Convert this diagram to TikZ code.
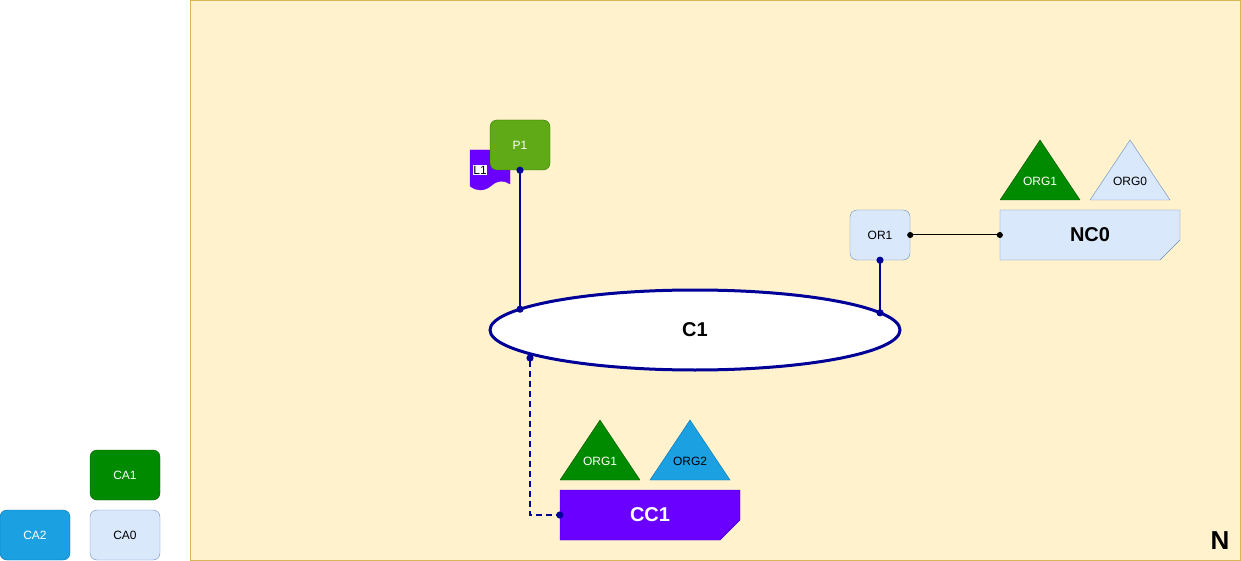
\documentclass[tikz,border=0pt]{standalone}
\usepackage{fontspec}
\setmainfont{Liberation Sans}
\usetikzlibrary{positioning, shapes, arrows.meta}

\definecolor{bgyellow}{HTML}{FFF2CC}
\definecolor{bgedge}{HTML}{D6B656}
\definecolor{bluefill}{HTML}{DAE8FC}
\definecolor{blueedge}{HTML}{6C8EBF}
\definecolor{greenfill}{HTML}{008A00}
\definecolor{greenedge}{HTML}{005700}
\definecolor{limefill}{HTML}{60A917}
\definecolor{limeedge}{HTML}{2D7600}
\definecolor{skyfill}{HTML}{1BA1E2}
\definecolor{skyedge}{HTML}{006EAF}
\definecolor{violetfill}{HTML}{6A00FF}
\definecolor{violetedge}{HTML}{3700CC}
\definecolor{navy}{HTML}{000099}

\tikzset{
    box/.style={rectangle, rounded corners=7pt, draw, minimum width=60pt, minimum height=50pt, inner sep=0pt, font=\fontsize{12}{14}\selectfont},
    cardtext/.style={minimum width=180pt, minimum height=50pt, inner sep=0pt, font=\bfseries\fontsize{20}{24}\selectfont},
    orgtext/.style={inner sep=0pt, font=\fontsize{12}{14}\selectfont},
    wire/.style={draw=navy, line width=2pt, {Circle[length=7pt]}-{Circle[length=7pt]}, shorten <=-3.5pt, shorten >=-3.5pt},
}

\begin{document}
\begin{tikzpicture}[x=1pt, y=-1pt]
    \useasboundingbox (0,0) rectangle (1241,561);

    % network area
    \filldraw[fill=bgyellow, draw=bgedge] (190.5,0.5) rectangle (1240.5,560.5);
    \node[font=\bfseries\fontsize{26}{30}\selectfont, inner sep=0pt] (nlabel) at (1220,541) {N};

    % ledger behind peer
    \filldraw[fill=violetfill, draw=violetfill] (470,150) -- (510,150) -- (510,184)
        .. controls (504,180) and (498,180) .. (492,185)
        .. controls (484,192) and (476,191) .. (470,186) -- cycle;
    \node[fill=white, text=black, inner xsep=0.5pt, inner ysep=1pt, font=\fontsize{12}{14}\selectfont] (l1) at (480,170) {L1};

    % peer and orderer
    \node[box, fill=limefill, draw=limeedge, text=white] (p1) at (520,145) {P1};
    \node[box, fill=bluefill, draw=blueedge] (or1) at (880,235) {OR1};

    % channel
    \node[ellipse, draw=navy, line width=3pt, fill=white, minimum width=410pt, minimum height=80pt, inner sep=0pt,
          font=\bfseries\fontsize{20}{24}\selectfont] (c1) at (695,330) {C1};

    % network configuration
    \filldraw[fill=bluefill, draw=blueedge] (1000,210) -- (1180,210) -- (1180,240) -- (1160,260) -- (1000,260) -- cycle;
    \node[cardtext] (nc0) at (1090,235) {NC0};
    \filldraw[fill=greenfill, draw=greenedge] (1000,200) -- (1040,140) -- (1080,200) -- cycle;
    \node[orgtext, text=white] (nc0org1) at (1040,181) {ORG1};
    \filldraw[fill=bluefill, draw=blueedge] (1090,200) -- (1130,140) -- (1170,200) -- cycle;
    \node[orgtext] (nc0org0) at (1130,181) {ORG0};

    % channel configuration
    \filldraw[fill=violetfill, draw=violetedge] (560,490) -- (740,490) -- (740,520) -- (720,540) -- (560,540) -- cycle;
    \node[cardtext, text=white] (cc1) at (650,515) {CC1};
    \filldraw[fill=greenfill, draw=greenedge] (560,480) -- (600,420) -- (640,480) -- cycle;
    \node[orgtext, text=white] (cc1org1) at (600,461) {ORG1};
    \filldraw[fill=skyfill, draw=skyedge] (650,480) -- (690,420) -- (730,480) -- cycle;
    \node[orgtext] (cc1org2) at (690,461) {ORG2};

    % certificate authorities
    \node[box, minimum width=70pt, fill=greenfill, draw=greenedge, text=white] (ca1) at (125,475) {CA1};
    \node[box, minimum width=70pt, fill=skyfill, draw=skyedge, text=white] (ca2) at (35,535) {CA2};
    \node[box, minimum width=70pt, fill=bluefill, draw=blueedge] (ca0) at (125,535) {CA0};

    % connections
    \draw[wire] (p1.south) -- ([xshift=-175pt, yshift=20.8pt]c1.center);
    \draw[wire] (or1.south) -- ([xshift=185pt, yshift=17.2pt]c1.center);
    \draw[wire, dash pattern=on 6pt off 4pt] ([xshift=-165pt, yshift=-28pt]c1.center) |- (cc1.west);
    \draw[line width=1pt, {Circle[length=6pt]}-{Circle[length=6pt]}, shorten <=-3pt, shorten >=-3pt] (or1.east) -- (nc0.west);
\end{tikzpicture}
\end{document}
